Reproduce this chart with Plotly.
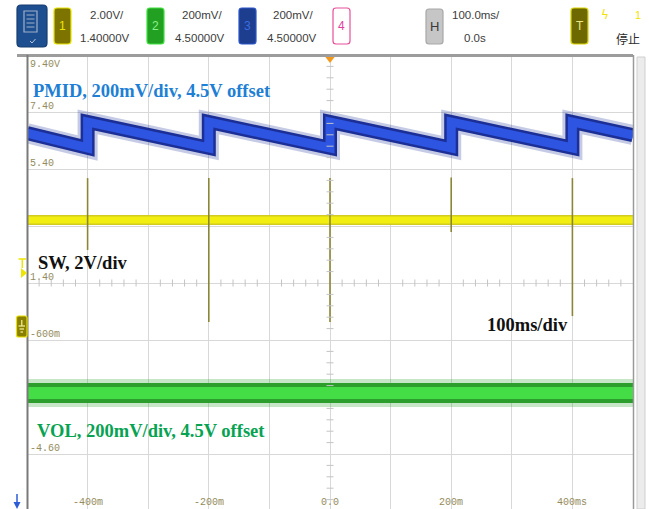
import numpy as np
import plotly.graph_objects as go

# ---- channel settings: volts per division and the value at screen centre ----
CH1_SCALE, CH1_OFFSET = 2.0, 1.40   # SW
CH2_SCALE, CH2_OFFSET = 0.2, 4.50   # VOL
CH3_SCALE, CH3_OFFSET = 0.2, 4.50   # PMID

# ---- PMID (channel 3) sawtooth vertices: time in ms, volts ----
pmid_t = [-500, -400, -400, -200, -200, 0, 0, 200, 200, 400, 400, 500]
pmid_v = [5.026, 4.974, 5.065, 4.974, 5.065, 4.974, 5.065, 4.974, 5.065, 4.974, 5.065, 5.019]

# ---- SW (channel 1): baseline and switching spikes ----
sw_t = [-500, 500]
sw_v = [3.61, 3.61]
sw_edge_t = [-400, -200, 0, 200, 400]
sw_peak_v = [5.08, 5.08, 5.08, 5.10, 5.08]
sw_dip_v = [2.56, 0.03, 0.03, 3.19, 0.24]

# ---- VOL (channel 2) ----
vol_t = [-500, 500]
vol_v = [4.114, 4.114]

# ---- graticule labels ----
x_grid = [-500, -400, -300, -200, -100, 0, 100, 200, 300, 400, 500]
x_label_ms = [-400, -200, 0, 200, 400]
x_label_text = ["-400m", "-200m", "0.0", "200m", "400ms"]
y_tick_volts = [9.4, 7.4, 5.4, 3.4, 1.4, -0.6, -2.6, -4.6]
y_tick_text = ["9.40V", "7.40", "5.40", "3.40", "1.40", "-600m", "-2.60", "-4.60"]


def to_div(v, scale, offset):
    return (np.asarray(v, dtype=float) - offset) / scale


# figure geometry (pixels) used for the instrument chrome
FW, FH = 649, 509
L, T, R = 27, 55, 16
W = FW - L - R
H = FH - T


def xp(px):
    return (px - L) / W


def yp(py):
    return (T + H - py) / H


fig = go.Figure()


def band(x, y, layers):
    for color, width in layers:
        fig.add_trace(go.Scatter(x=x, y=y, mode="lines", hoverinfo="skip",
                                 line=dict(color=color, width=width)))


# VOL trace
band(vol_t, to_div(vol_v, CH2_SCALE, CH2_OFFSET),
     [("rgba(30,150,30,0.25)", 28), ("#2b9e2b", 20), ("#45dd45", 12)])

# SW trace
band(sw_t, to_div(sw_v, CH1_SCALE, CH1_OFFSET),
     [("#d2cc22", 10), ("#f2ee10", 7)])
spk_x, spk_y = [], []
for t, hi, lo in zip(sw_edge_t, sw_peak_v, sw_dip_v):
    spk_x += [t, t, None]
    spk_y += [hi, lo, None]
spk_div = [None if v is None else (v - CH1_OFFSET) / CH1_SCALE for v in spk_y]
fig.add_trace(go.Scatter(x=spk_x, y=spk_div, mode="lines", hoverinfo="skip",
                         line=dict(color="#8a8638", width=1.6)))

# PMID trace
band(pmid_t, to_div(pmid_v, CH3_SCALE, CH3_OFFSET),
     [("rgba(25,45,150,0.25)", 20), ("#1c2f96", 14), ("#2d55e2", 9)])

# minor ticks on the centre lines
mx = np.arange(-500, 501, 20)
mx = mx[mx % 100 != 0]
fig.add_trace(go.Scatter(x=mx, y=np.zeros_like(mx), mode="markers", hoverinfo="skip",
                         marker=dict(symbol="line-ns", size=5,
                                     line=dict(color="#c4c4c4", width=1))))
my = np.round(np.arange(-4, 4.01, 0.2), 2)
my = my[np.abs(my - np.round(my)) > 1e-6]
fig.add_trace(go.Scatter(x=np.zeros_like(my), y=my, mode="markers", hoverinfo="skip",
                         marker=dict(symbol="line-ew", size=5,
                                     line=dict(color="#c4c4c4", width=1))))

# trigger position marker
fig.add_trace(go.Scatter(x=[0], y=[4 - 3.5 / 57], mode="markers", hoverinfo="skip",
                         cliponaxis=False,
                         marker=dict(symbol="triangle-down", size=9, color="#f39a1e")))

mono = dict(family="Liberation Mono, DejaVu Sans Mono, monospace", size=10, color="#948c5c")
y_div = [(v - CH1_OFFSET) / CH1_SCALE for v in y_tick_volts]

fig.update_layout(
    width=FW, height=FH,
    margin=dict(l=L, r=R, t=T, b=0, autoexpand=False),
    paper_bgcolor="white", plot_bgcolor="white", showlegend=False,
    xaxis=dict(range=[-500, 500], tickvals=x_grid, showticklabels=False, ticks="",
               showgrid=True, gridcolor="#d8d8d8", gridwidth=1, zeroline=False,
               showline=False, fixedrange=True),
    yaxis=dict(range=[-4 + 2 / 57, 4], tickvals=y_div[1:], ticktext=y_tick_text[1:],
               ticklabelposition="inside top", ticks="", showgrid=True,
               gridcolor="#d8d8d8", gridwidth=1, zeroline=False, showline=False,
               layer="below traces", tickfont=mono, fixedrange=True),
)

fig.add_annotation(text=y_tick_text[0], xref="paper", yref="y", x=xp(28), y=y_div[0],
                   xanchor="left", yanchor="top", yshift=-2, showarrow=False, font=mono)

# time labels along the bottom edge of the screen
for t, s in zip(x_label_ms, x_label_text):
    fig.add_annotation(text=s, xref="x", yref="paper", x=t, y=yp(502),
                       xanchor="center", yanchor="middle", showarrow=False,
                       borderpad=0, font=mono)

# channel captions
serif = "Liberation Serif, Times New Roman, serif"
captions = [
    ("PMID, 200mV/div, 4.5V offset", 32, 91, "#1e7fd4"),
    ("SW, 2V/div", 37, 263, "#111111"),
    ("100ms/div", 486, 325, "#111111"),
    ("VOL, 200mV/div, 4.5V offset", 36, 431, "#07a352"),
]
for s, x, y, c in captions:
    fig.add_annotation(text="<b>" + s + "</b>", xref="paper", yref="paper",
                       x=xp(x), y=yp(y), xanchor="left", yanchor="middle",
                       showarrow=False, borderpad=0,
                       font=dict(family=serif, size=18.5, color=c))

shapes = []


def line(x0, y0, x1, y1, color, width):
    shapes.append(dict(type="line", xref="paper", yref="paper", x0=xp(x0), y0=yp(y0),
                       x1=xp(x1), y1=yp(y1), line=dict(color=color, width=width)))


def rrect(x0, y0, x1, y1, fill, edge, r=3, lw=1.2):
    p = (f"M {xp(x0 + r)} {yp(y0)} L {xp(x1 - r)} {yp(y0)} Q {xp(x1)} {yp(y0)} {xp(x1)} {yp(y0 + r)} "
         f"L {xp(x1)} {yp(y1 - r)} Q {xp(x1)} {yp(y1)} {xp(x1 - r)} {yp(y1)} "
         f"L {xp(x0 + r)} {yp(y1)} Q {xp(x0)} {yp(y1)} {xp(x0)} {yp(y1 - r)} "
         f"L {xp(x0)} {yp(y0 + r)} Q {xp(x0)} {yp(y0)} {xp(x0 + r)} {yp(y0)} Z")
    shapes.append(dict(type="path", xref="paper", yref="paper", path=p,
                       fillcolor=fill, line=dict(color=edge, width=lw)))


def poly(pts, fill, edge=None, lw=0):
    p = "M " + " L ".join(f"{xp(a)} {yp(b)}" for a, b in pts) + " Z"
    shapes.append(dict(type="path", xref="paper", yref="paper", path=p, fillcolor=fill,
                       line=dict(color=edge or fill, width=lw)))


# screen frame
line(17, 55.5, 633, 55.5, "#9c9c9c", 3)
line(27.5, 55, 27.5, 509, "#7a7a7a", 2)
line(633.5, 55, 633.5, 509, "#9a9a9a", 1.5)
shapes.append(dict(type="rect", xref="paper", yref="paper", x0=xp(637), y0=yp(509),
                   x1=xp(645), y1=yp(57), fillcolor="#ececec", line=dict(color="#cfcfcf", width=1)))

# header: menu icon
rrect(17, 5, 47, 47, "#1d4e8f", "#163d70", r=4)
shapes.append(dict(type="rect", xref="paper", yref="paper", x0=xp(24), y0=yp(32),
                   x1=xp(37), y1=yp(11), line=dict(color="#9fb0c9", width=1.2)))
for yy in (15, 19, 23, 27):
    line(26.5, yy, 34.5, yy, "#9fb0c9", 1)
shapes.append(dict(type="path", xref="paper", yref="paper",
                   path=f"M {xp(30)} {yp(41)} L {xp(32)} {yp(43)} L {xp(35.5)} {yp(39)}",
                   line=dict(color="#b8c6dc", width=1)))

# header: channel buttons
rrect(54, 8, 71, 44, "#7d7400", "#e8e400")
rrect(147, 8, 164, 44, "#22a022", "#3ee03e")
rrect(239, 8, 256, 44, "#1d3d8e", "#2a55c8")
rrect(333, 8, 350, 44, "#ffffff", "#e8509a")
rrect(426, 9, 443, 44, "#c6c6c6", "#a8a8a8")
rrect(571, 8, 588, 44, "#6d6900", "#d8d400")

# left-edge markers: trigger level, channel 1 ground, channel 3 ground
line(18.5, 259, 26, 259, "#eee600", 1.5)
line(22.3, 259, 22.3, 268, "#eee600", 1.5)
poly([(21, 268), (27, 273), (21, 278)], "#eee600")
rrect(16.5, 316, 27, 337, "#8a8000", "#e8e000", r=2)
line(21.8, 320, 21.8, 326, "#f4f0a0", 1.2)
line(18.5, 326, 25, 326, "#f4f0a0", 1.2)
line(19.5, 329, 24, 329, "#f4f0a0", 1.2)
line(20.5, 332, 23, 332, "#f4f0a0", 1.2)
line(17, 494, 17, 505, "#2c5cd6", 1.5)
poly([(13.5, 502), (20.5, 502), (17, 509)], "#2c5cd6")

fig.update_layout(shapes=shapes)

sans = "Liberation Sans, Arial, sans-serif"


def txt(s, x, y, size=11.5, color="#3c3c3c", family=sans):
    fig.add_annotation(text=s, xref="paper", yref="paper", x=xp(x), y=yp(y),
                       xanchor="center", yanchor="middle", showarrow=False,
                       font=dict(family=family, size=size, color=color))


txt("1", 62.5, 26, 12, "#ece400")
txt("2", 155.5, 26, 12, "#8af08a")
txt("3", 247.5, 26, 12, "#3a6ee0")
txt("4", 341.5, 26, 12, "#e0409a")
txt("H", 434.5, 26, 13, "#3a3a3a")
txt("T", 579.5, 26, 12, "#ece88a")

txt("2.00V/", 107, 15)
txt("1.40000V", 105, 38)
txt("200mV/", 202, 15)
txt("4.50000V", 200, 38)
txt("200mV/", 293, 15)
txt("4.50000V", 292, 38)
txt("100.0ms/", 476, 15)
txt("0.0s", 475, 38)
txt("ϟ", 605, 15, 12, "#f2e200", "DejaVu Sans")
txt("1", 638, 15, 11, "#f2e200")
txt("停止", 628, 38, 12, "#2c2c2c", "Noto Sans CJK SC")

fig.write_html("out.html")
